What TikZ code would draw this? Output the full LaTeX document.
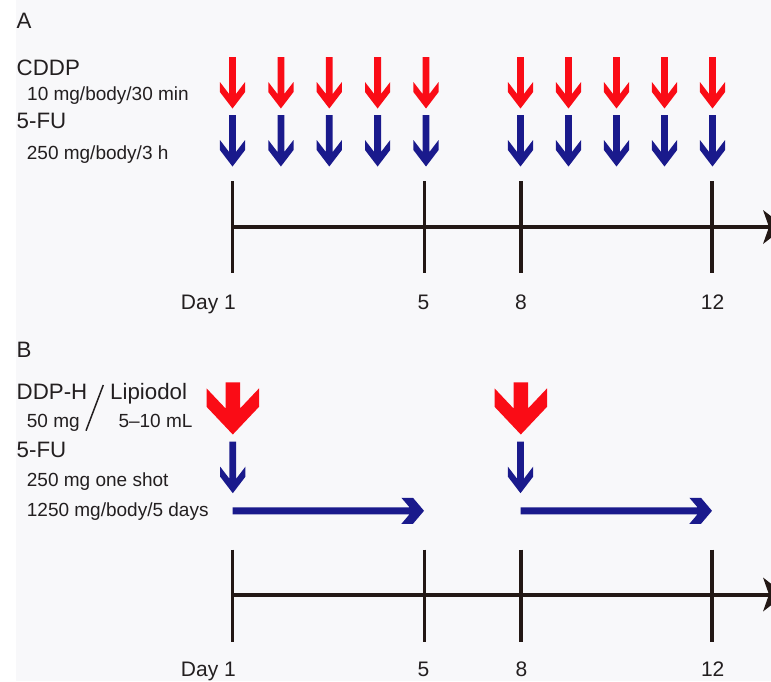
\documentclass[tikz,border=0pt]{standalone}
\usepackage{fontspec}
\setmainfont{Liberation Sans}
\definecolor{dosered}{RGB}{250,12,22}
\definecolor{doseblue}{RGB}{26,26,140}
\definecolor{axisblack}{RGB}{35,24,21}
\definecolor{ink}{RGB}{35,31,32}
\definecolor{paper}{RGB}{248,248,250}
\tikzset{
  hdr/.style={anchor=base west, inner sep=0pt, text=ink, font=\fontsize{22.3}{26}\selectfont},
  sub/.style={anchor=base west, inner sep=0pt, text=ink, font=\fontsize{19}{23}\selectfont},
  daylab/.style={anchor=base, inner sep=0pt, text=ink, font=\fontsize{21}{25}\selectfont},
  axisline/.style={draw=axisblack, line width=4pt},
  tickline/.style={draw=axisblack, line width=3.9pt},
  % thin vertical dose arrow, drawn downwards from its top centre
  pics/thinarrow/.style={code={
    \fill[#1] (-3.4,0) -- (-3.4,37) -- (-12.6,25) -- (-12.6,35) -- (0,51.5)
      -- (12.6,35) -- (12.6,25) -- (3.4,37) -- (3.4,0) -- cycle;}},
  % broad vertical arrow for the arterial injection
  pics/thickarrow/.style={code={
    \fill[#1] (-7.2,0) -- (-7.2,26.2) -- (-26.3,6) -- (-26.3,24.4) -- (0,52.2)
      -- (26.3,24.4) -- (26.3,6) -- (7.2,26.2) -- (7.2,0) -- cycle;}},
  % horizontal arrow for the continuous infusion, drawn rightwards from its start
  pics/infusion/.style={code={
    \fill[#1] (0,-3.5) -- (177,-3.5) -- (168.9,-13) -- (180.5,-13) -- (191.5,0)
      -- (180.5,13) -- (168.9,13) -- (177,3.5) -- (0,3.5) -- cycle;}},
}
\begin{document}
\begin{tikzpicture}[x=1pt,y=-1pt]
\useasboundingbox (0,0) rectangle (771,681);
\clip (0,0) rectangle (771,681);
\fill[white] (0,0) rectangle (771,681);
\fill[paper] (16,0) rectangle (771,681);

% ---------------- panel A ----------------
\node[hdr] (labA) at (16.5,28.3) {A};
\node[hdr] (cddp) at (16.5,75.5) {CDDP};
\node[sub] (cddpdose) at (27,100.7) {10 mg/body/30 min};
\node[hdr] (fuA) at (16.5,128.3) {5-FU};
\node[sub] (fuAdose) at (26.7,159.3) {250 mg/body/3 h};

\foreach \x [count=\i] in {232.5,280.9,329.3,377.6,426,520.5,568.5,616.5,664.5,712.5}{
  \pic (redA\i) at (\x,57) {thinarrow=dosered};
  \pic (blueA\i) at (\x,115) {thinarrow=doseblue};
}

\coordinate (axAstart) at (232.5,227);
\coordinate (axAend) at (770,227);
\draw[axisline] (axAstart) -- (axAend);
\fill[axisblack] (763,210) -- (785,227) -- (763,244) -- (769,227) -- cycle;
\foreach \x [count=\i] in {232.5,424.5,520.6,712.4}{
  \coordinate (tAtop\i) at (\x,181);
  \coordinate (tAbot\i) at (\x,273);
  \draw[tickline] (tAtop\i) -- (tAbot\i);
}
\node[daylab, anchor=base east] (dA1) at (236,309.3) {Day 1};
\node[daylab] (dA5) at (423.5,309.3) {5};
\node[daylab] (dA8) at (521,309.3) {8};
\node[daylab] (dA12) at (712.5,309.3) {12};

% ---------------- panel B ----------------
\node[hdr] (labB) at (16.5,357.3) {B};
\node[hdr] (ddph) at (16.5,399.3) {DDP-H};
\node[hdr] (lipi) at (110,399.3) {Lipiodol};
\node[sub] (ddphdose) at (26.7,427.3) {50 mg};
\node[sub] (lipidose) at (118.3,427.3) {5–10 mL};
\coordinate (slashtop) at (103.3,385);
\coordinate (slashbot) at (86,430.7);
\draw[ink, line width=1.5pt] (slashtop) -- (slashbot);
\node[hdr] (fuB) at (16.5,457.3) {5-FU};
\node[sub] (fuBshot) at (26.7,486.7) {250 mg one shot};
\node[sub] (fuBinf) at (26.7,516.7) {1250 mg/body/5 days};

\pic (redB1) at (232.8,382.3) {thickarrow=dosered};
\pic (redB2) at (520.8,382.3) {thickarrow=dosered};
\pic (blueB1) at (232.8,441.7) {thinarrow=doseblue};
\pic (blueB2) at (520.5,441.7) {thinarrow=doseblue};
\pic (infB1) at (232.5,510.8) {infusion=doseblue};
\pic (infB2) at (520.5,510.8) {infusion=doseblue};

\coordinate (axBstart) at (232.5,594.5);
\coordinate (axBend) at (770,594.5);
\draw[axisline] (axBstart) -- (axBend);
\fill[axisblack] (763,577.5) -- (785,594.5) -- (763,611.5) -- (769,594.5) -- cycle;
\foreach \x [count=\i] in {232.5,424.5,520.6,712.4}{
  \coordinate (tBtop\i) at (\x,549.5);
  \coordinate (tBbot\i) at (\x,641.5);
  \draw[tickline] (tBtop\i) -- (tBbot\i);
}
\node[daylab, anchor=base east] (dB1) at (236,676.7) {Day 1};
\node[daylab] (dB5) at (423.5,676.7) {5};
\node[daylab] (dB8) at (521.5,676.7) {8};
\node[daylab] (dB12) at (712.7,676.7) {12};
\end{tikzpicture}
\end{document}
